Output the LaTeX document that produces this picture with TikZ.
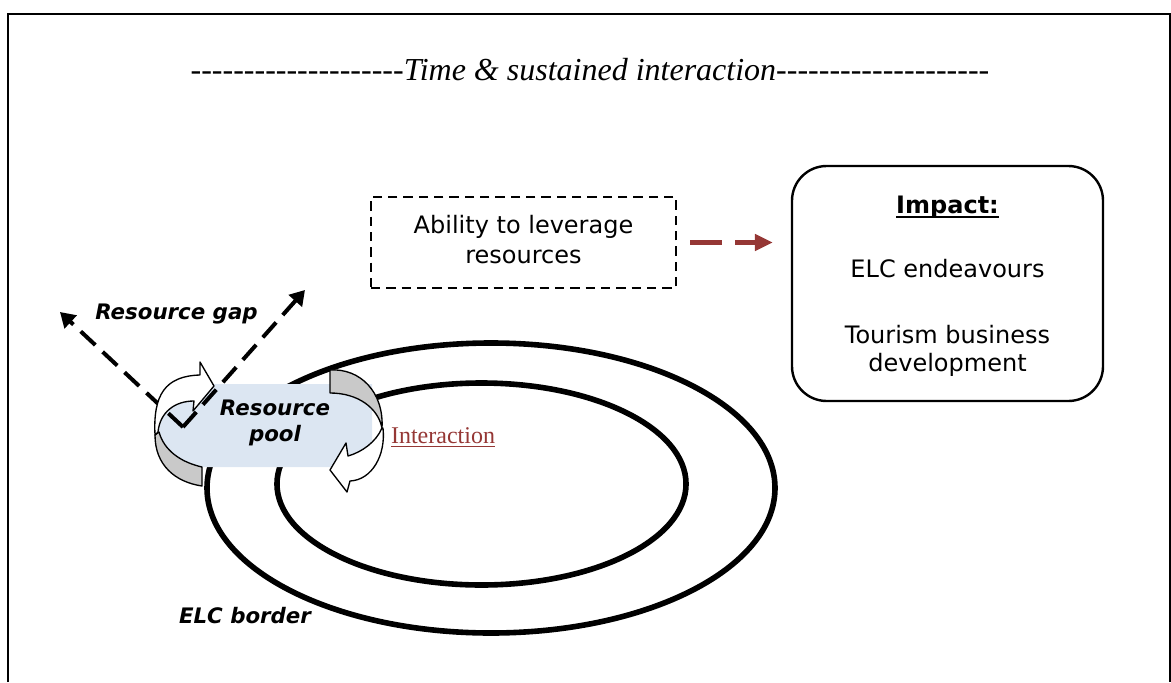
\documentclass[tikz,border=0pt]{standalone}
\usepackage{fontspec}
\setmainfont{DejaVu Sans}
\newfontfamily\serifface{Liberation Serif}
\usetikzlibrary{arrows.meta}

\definecolor{brickred}{RGB}{149,55,53}
\definecolor{poolblue}{RGB}{220,230,242}
\definecolor{bandgray}{RGB}{201,201,201}

% underline drawn at a chosen depth and thickness
\newcommand{\ulword}[3]{\setbox0=\hbox{#3}\rlap{\rule[-#1]{\wd0}{#2}}\box0}
% a run of plain hyphens (kerns keep them from joining into dashes)
\newcommand{\hyphenrun}{\foreach \k in {1,...,20}{-\kern0pt}}

\begin{document}
\begin{tikzpicture}[x=0.75pt, y=-0.75pt,
  frame/.style={line width=1.5pt},
  ring/.style={line width=4.2pt},
  titletext/.style={font=\serifface\itshape\fontsize{24}{28}\selectfont, inner sep=0pt},
  dashbox/.style={draw, line width=1.5pt, dash pattern=on 7pt off 4.5pt,
    minimum width=228.75pt, minimum height=68.25pt, align=center, inner sep=0pt,
    font=\fontsize{18}{22.5}\selectfont},
  impactbox/.style={draw, line width=1.8pt, rounded corners=26pt,
    minimum width=233.25pt, minimum height=176.25pt, align=center, inner sep=0pt,
    font=\fontsize{18}{21}\selectfont},
  boldlabel/.style={font=\bfseries\itshape\fontsize{16}{19.5}\selectfont, inner sep=0pt},
  linklabel/.style={font=\serifface\fontsize{18}{22}\selectfont, text=brickred, inner sep=0pt},
  gaparrow/.style={line width=3pt, dash pattern=on 15pt off 7.5pt,
    -{Triangle[length=11pt, width=13pt]}},
  leverarrow/.style={brickred, line width=3.75pt, dash pattern=on 24pt off 9.75pt,
    -{Triangle[length=13.5pt, width=12pt]}, shorten <=9.75pt, shorten >=13.4pt},
  bandline/.style={line width=1pt, line join=round}
]
\useasboundingbox (0,0) rectangle (1171,682);

% outer frame, open at the bottom
\draw[frame] (7.8,682) -- (7.8,13.5) -- (1169.5,13.5) -- (1169.5,682);

% heading
\node[titletext, anchor=base] (title) at (590,80)
  {\hyphenrun Time \& sustained interaction\hyphenrun};

% the two rings
\draw[ring] (491,488) ellipse [x radius=213pt, y radius=108.75pt];
\draw[ring] (481.5,484) ellipse [x radius=153.4pt, y radius=75.75pt];

% resource pool patch
\fill[poolblue] (158,432) -- (165,398) -- (185,384) -- (372,384) -- (372,467)
  -- (202,467) .. controls (180,462) and (164,450) .. (159,432) -- cycle;

% resource gap arrows
\coordinate (vtx) at (183,427);
\coordinate (gapL) at (60,312);
\coordinate (gapR) at (305,290);
\draw[gaparrow] (vtx) -- (gapL);
\draw[gaparrow] (vtx) -- (gapR);

% left circular arrow: grey front band and white back band with head
\filldraw[bandline, fill=bandgray] (155,435) .. controls (155,465) and (175,482) .. (202,486)
  -- (202,467) .. controls (180,462) and (164,450) .. (159,432) -- cycle;
\filldraw[bandline, fill=white] (155,435) .. controls (153,395) and (165,376) .. (200,375)
  -- (200,362) -- (214,386) -- (193,411) -- (194,401)
  .. controls (175,401) and (160,412) .. (158,432) -- cycle;

% right circular arrow
\filldraw[bandline, fill=bandgray] (330,370) -- (330,393)
  .. controls (358,393) and (378,408) .. (382,428)
  .. controls (384,392) and (360,368) .. (330,370) -- cycle;
\filldraw[bandline, fill=white] (383,428) .. controls (386,455) and (372,480) .. (350,481)
  -- (347,492) -- (330,470) -- (346,443) -- (348,456)
  .. controls (362,452) and (376,442) .. (382,428) -- cycle;

% labels around the pool
\node[boldlabel, anchor=base] (gaplabel) at (176.5,319) {Resource gap};
\node[boldlabel, align=center] (poollabel) at (275,423) {Resource\\pool};
\node[boldlabel, anchor=base] (borderlabel) at (245,623) {ELC border};
\node[linklabel, anchor=base] (interaction) at (443,443)
  {\ulword{3pt}{1.1pt}{Interaction}};

% leverage box and impact box
\node[dashbox] (ability) at (523.5,242.5)
  {Ability to leverage\\resources\rule[-4.5pt]{0pt}{4.5pt}};
\node[impactbox] (impact) at (947.5,283.5)
  {\rule{0pt}{17.6pt}\ulword{3pt}{1.5pt}{\textbf{Impact:}}\\[27pt]
   ELC endeavours\\[28.5pt]
   Tourism business\\development};

\draw[leverarrow] (ability.east) -- (ability.east -| impact.west);
\end{tikzpicture}
\end{document}
